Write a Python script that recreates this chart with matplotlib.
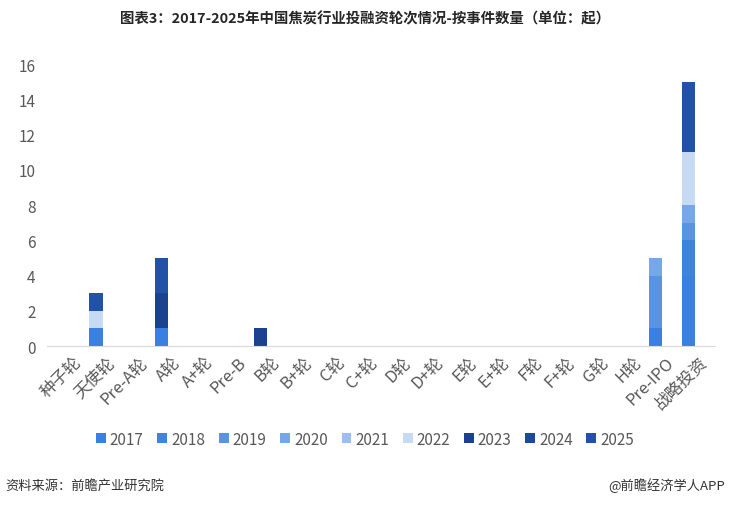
import matplotlib
matplotlib.use("Agg")
import matplotlib.pyplot as plt
import numpy as np

plt.rcParams['font.family'] = ['Noto Sans CJK SC', 'DejaVu Sans']

categories = ["种子轮", "天使轮", "Pre-A轮", "A轮", "A+轮", "Pre-B", "B轮", "B+轮", "C轮", "C+轮",
              "D轮", "D+轮", "E轮", "E+轮", "F轮", "F+轮", "G轮", "H轮", "Pre-IPO", "战略投资"]
years = ["2017", "2018", "2019", "2020", "2021", "2022", "2023", "2024", "2025"]
colors = ["#3a80e0", "#3f84dc", "#5894e1", "#76a7e8", "#9bbff0", "#c6daf4", "#1a428f", "#1c4a99", "#2053a7"]

v2017 = [0, 1, 0, 1, 0, 0, 0, 0, 0, 0, 0, 0, 0, 0, 0, 0, 0, 0, 1, 4]
v2018 = [0, 0, 0, 0, 0, 0, 0, 0, 0, 0, 0, 0, 0, 0, 0, 0, 0, 0, 0, 2]
v2019 = [0, 0, 0, 0, 0, 0, 0, 0, 0, 0, 0, 0, 0, 0, 0, 0, 0, 0, 3, 1]
v2020 = [0, 0, 0, 0, 0, 0, 0, 0, 0, 0, 0, 0, 0, 0, 0, 0, 0, 0, 1, 1]
v2021 = [0, 0, 0, 0, 0, 0, 0, 0, 0, 0, 0, 0, 0, 0, 0, 0, 0, 0, 0, 0]
v2022 = [0, 1, 0, 0, 0, 0, 0, 0, 0, 0, 0, 0, 0, 0, 0, 0, 0, 0, 0, 3]
v2023 = [0, 0, 0, 2, 0, 0, 1, 0, 0, 0, 0, 0, 0, 0, 0, 0, 0, 0, 0, 0]
v2024 = [0, 0, 0, 0, 0, 0, 0, 0, 0, 0, 0, 0, 0, 0, 0, 0, 0, 0, 0, 0]
v2025 = [0, 1, 0, 2, 0, 0, 0, 0, 0, 0, 0, 0, 0, 0, 0, 0, 0, 0, 0, 4]
series = [v2017, v2018, v2019, v2020, v2021, v2022, v2023, v2024, v2025]

fig = plt.figure(figsize=(7.3, 5.06), dpi=100)
ax = fig.add_axes([0.064, 0.314, 0.915, 0.5575])

x = np.arange(len(categories))
bottom = np.zeros(len(categories))
for yr, vals, c in zip(years, series, colors):
    vals = np.array(vals, dtype=float)
    ax.bar(x, vals, width=0.4, bottom=bottom, color=c, label=yr, linewidth=0)
    bottom += vals

ax.set_ylim(0, 16)
ax.set_xlim(-0.5, 19.8)
ax.set_yticks(range(0, 17, 2))
ax.set_xticks(x + 0.3)
ax.set_xticklabels(categories, rotation=45, ha='right', rotation_mode='anchor', fontsize=12, color='#595959')
ax.tick_params(axis='y', labelsize=11, colors='#595959', length=0, pad=8)
ax.tick_params(axis='x', length=0, pad=5)
for s in ['top', 'right', 'left']:
    ax.spines[s].set_visible(False)
ax.spines['bottom'].set_color('#d9d9d9')

fig.text(0.5, 0.962, "图表3：2017-2025年中国焦炭行业投融资轮次情况-按事件数量（单位：起）",
         ha='center', va='center', fontsize=10.4, fontweight='bold', color='#262626')

leg = fig.legend(loc='center', bbox_to_anchor=(0.5, 0.13), ncol=9, frameon=False,
                 fontsize=11, handlelength=0.65, handleheight=0.65, handletextpad=0.25,
                 columnspacing=0.9, labelcolor='#595959')

fig.text(0.007, 0.04, "资料来源：前瞻产业研究院", ha='left', va='center', fontsize=9.5, color='#333333')
fig.text(0.993, 0.04, "@前瞻经济学人APP", ha='right', va='center', fontsize=9.5, color='#333333')

fig.savefig("out.png", dpi=100)
